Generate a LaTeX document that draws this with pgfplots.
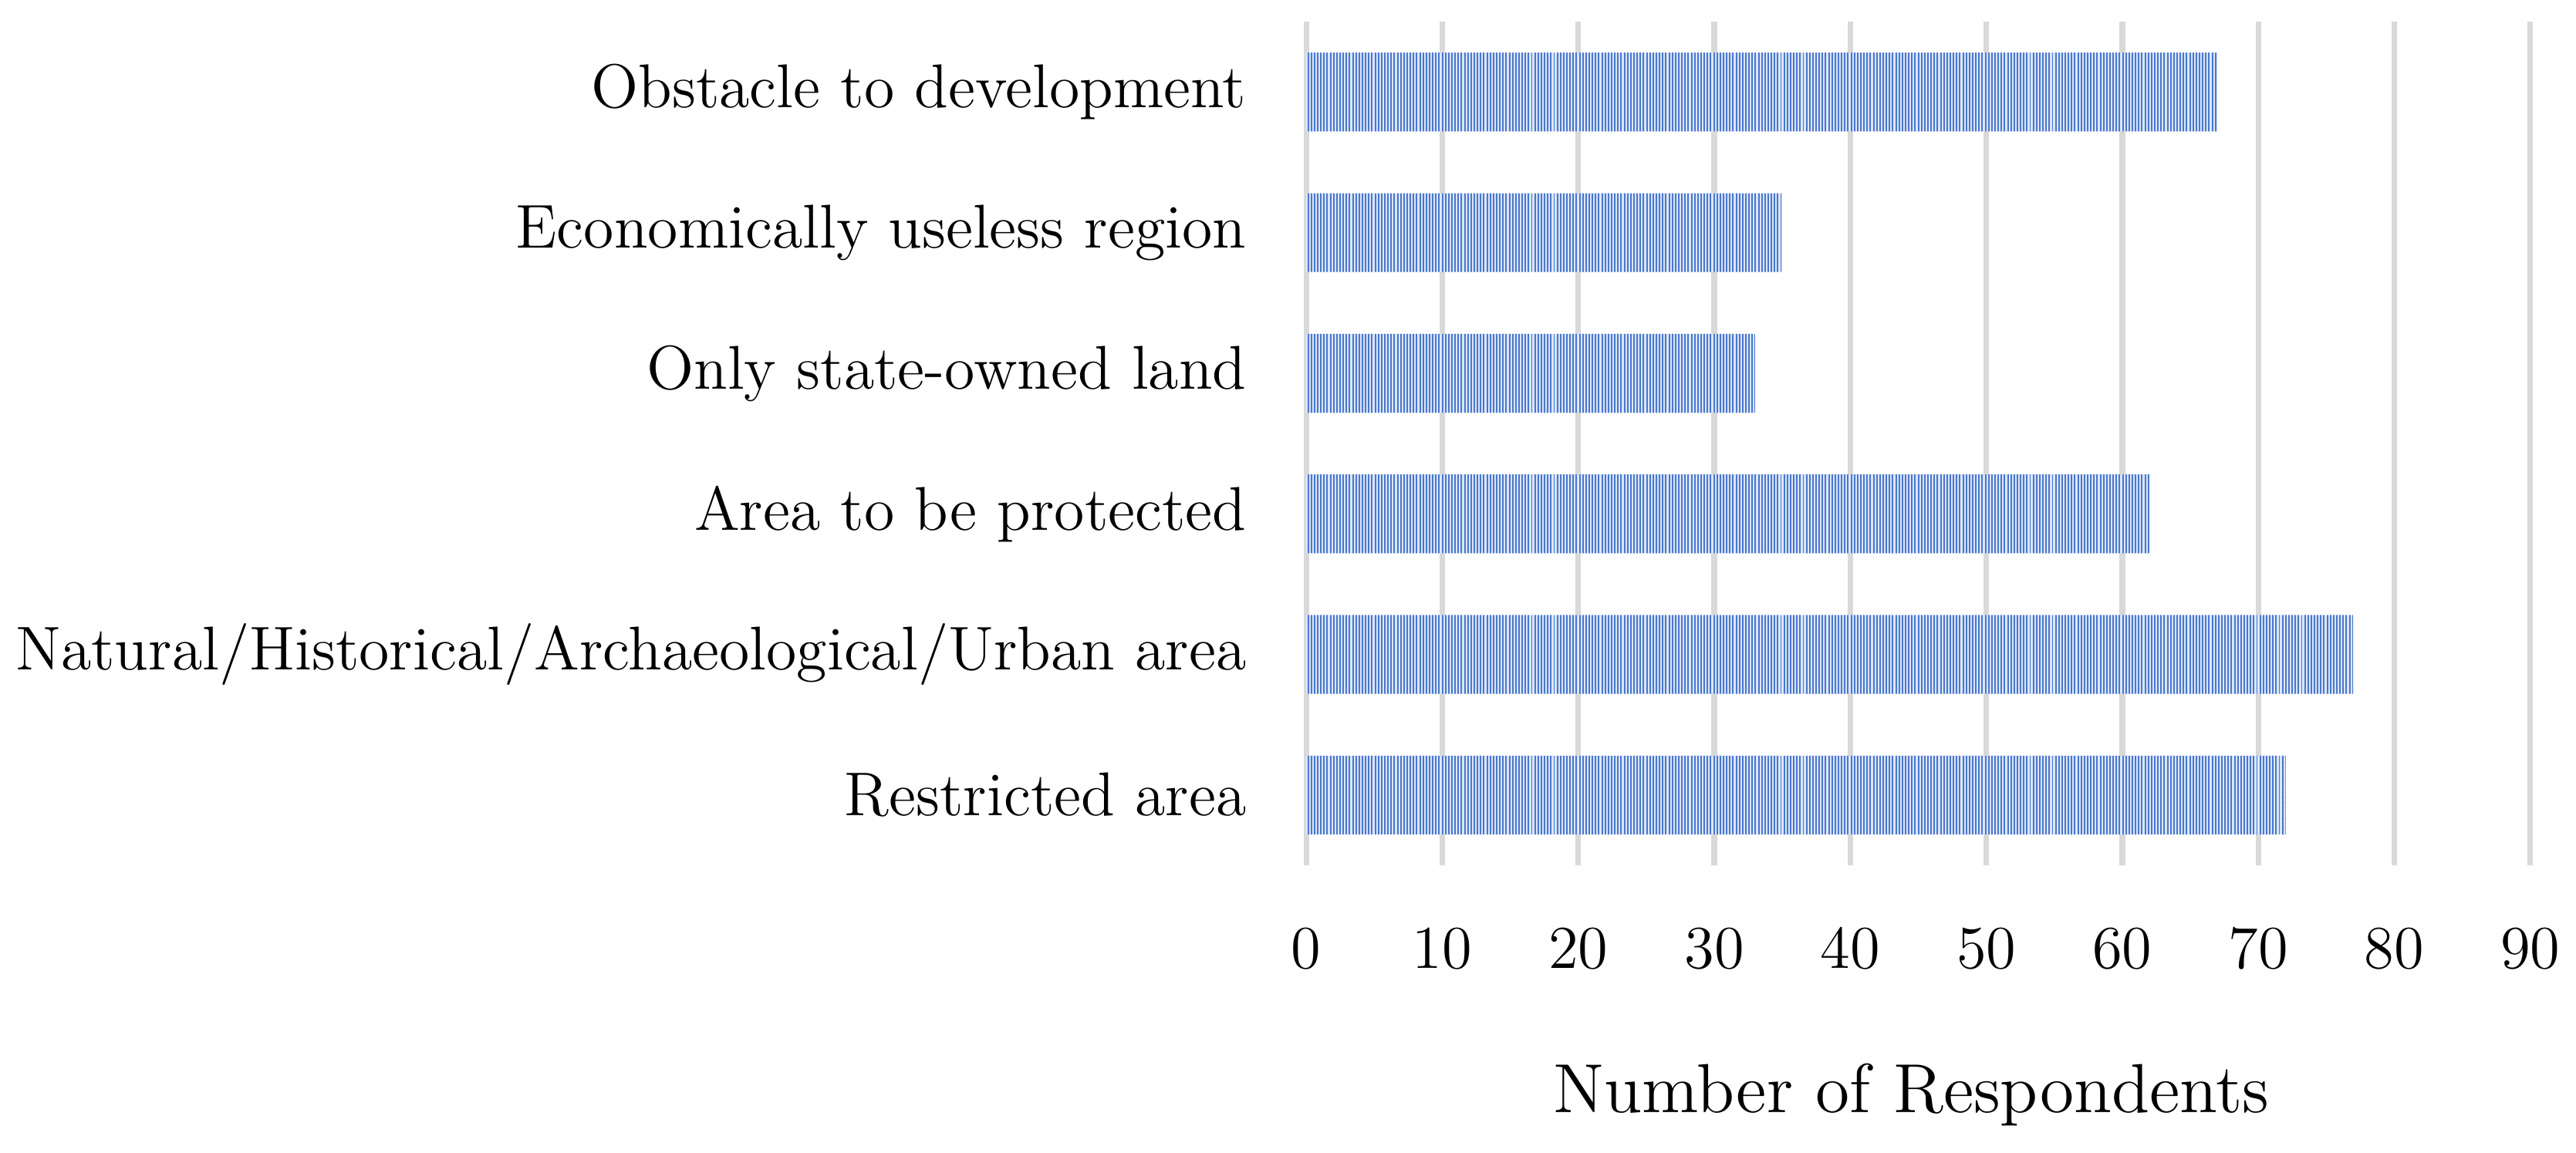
\documentclass[border=0pt]{standalone}
\usepackage{pgfplots}
\pgfplotsset{compat=1.18}
\usetikzlibrary{patterns}
\definecolor{gridgray}{HTML}{D9D9D9}
\definecolor{bardark}{HTML}{4A78CC}
\definecolor{barlight}{HTML}{DCE5F7}
\pgfdeclarepatternformonly{fineV}{\pgfqpoint{-0.1pt}{-0.1pt}}{\pgfqpoint{0.73pt}{1.1pt}}{\pgfqpoint{0.63pt}{1pt}}{%
  \pgfsetlinewidth{0.3pt}%
  \pgfpathmoveto{\pgfqpoint{0.3pt}{-0.1pt}}%
  \pgfpathlineto{\pgfqpoint{0.3pt}{1.1pt}}%
  \pgfusepath{stroke}}
\begin{document}
\begin{tikzpicture}
\path[use as bounding box] (0,0) rectangle (508pt,227.4pt);
\begin{axis}[
  at={(257.6pt,56.7pt)}, anchor=south west,
  scale only axis, width=241.4pt, height=166.4pt,
  xbar, xmin=0, xmax=90, ymin=-0.5, ymax=5.5,
  bar width=0.56,
  xtick={0,10,...,90},
  ytick={0,1,2,3,4,5},
  yticklabels={Restricted area, Natural/Historical/Archaeological/Urban area, Area to be protected, Only state-owned land, Economically useless region, Obstacle to development},
  axis line style={draw=none},
  major tick length=0pt,
  xmajorgrids,
  grid style={draw=gridgray, line width=1.1pt},
  ticklabel style={font=\fontsize{12pt}{14pt}\selectfont},
  yticklabel style={xshift=-8.3pt, font=\fontsize{12.2pt}{14pt}\selectfont},
  xticklabel style={yshift=-9.1pt},
  xlabel={Number of Respondents},
  xlabel style={font=\fontsize{13.7pt}{16pt}\selectfont, at={(axis description cs:0.5,0)}, anchor=base, yshift=-48.8pt, xshift=-1.4pt},
]
\addplot[draw=none, fill=barlight, postaction={pattern=fineV, pattern color=bardark}] coordinates {(72,0) (77,1) (62,2) (33,3) (35,4) (67,5)};
\end{axis}
\end{tikzpicture}
\end{document}
